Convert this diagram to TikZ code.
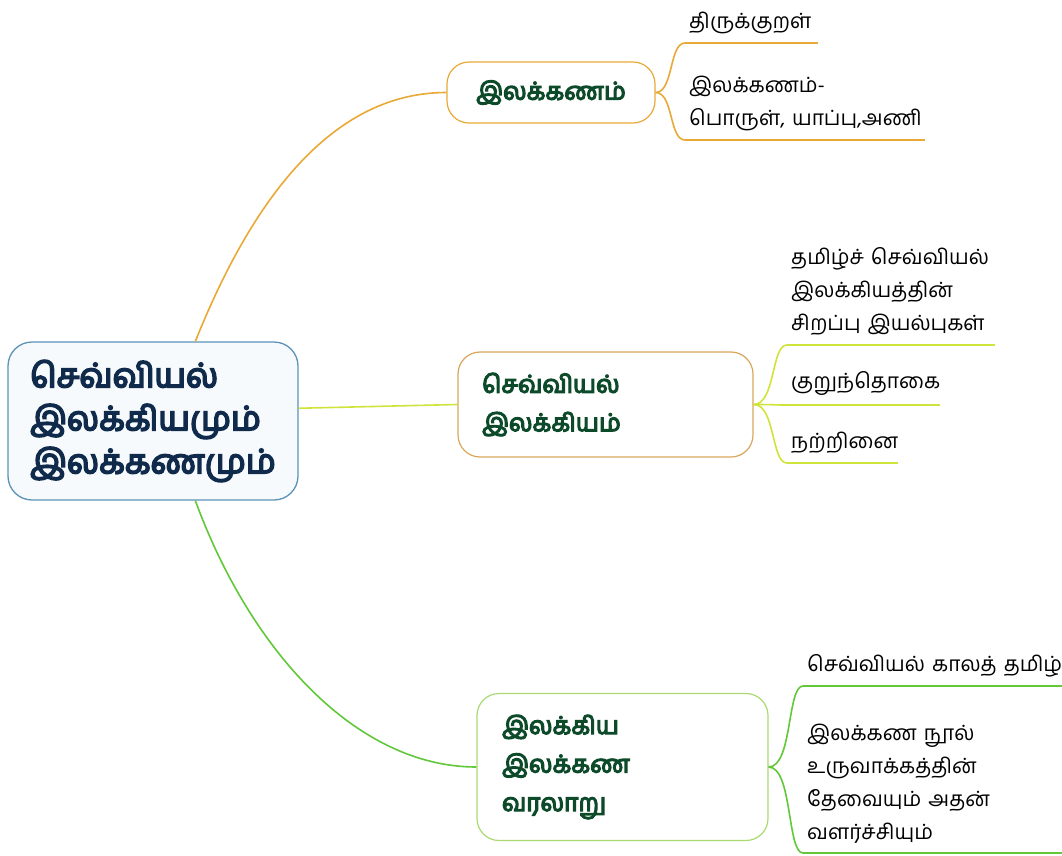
\documentclass[tikz,border=0pt]{standalone}
\usepackage{fontspec}
\newfontfamily\tamil[Script=Tamil]{Hind Madurai}
\newfontfamily\tamilbold[Script=Tamil, FakeBold=5]{Hind Madurai}
\usetikzlibrary{positioning}

\definecolor{rootline}{HTML}{5B93B8}
\definecolor{rootfill}{HTML}{F6FAFC}
\definecolor{rootink}{HTML}{102A4C}
\definecolor{branchink}{HTML}{0D4A2A}
\definecolor{gold}{HTML}{E9A936}
\definecolor{goldbox}{HTML}{DAA65C}
\definecolor{lime}{HTML}{CFE33A}
\definecolor{leaf}{HTML}{62C83A}
\definecolor{leafbox}{HTML}{A9DA72}

\tikzstyle{rootbox} = [rectangle, rounded corners=24pt, draw=rootline, line width=1.3pt, fill=rootfill, text width=246pt, inner xsep=22pt, minimum height=158pt, align=left, text=rootink, font=\tamilbold\fontsize{33.5}{43}\selectfont]
\tikzstyle{branch} = [rectangle, rounded corners=22pt, line width=1.2pt, fill=white, align=left, text=branchink, font=\tamilbold\fontsize{24.5}{38.5}\selectfont]
\tikzstyle{topic} = [anchor=south west, inner xsep=4pt, inner ysep=9pt, align=left, font=\tamil\fontsize{21}{33}\selectfont]
\tikzstyle{link} = [line width=1.6pt]
\tikzstyle{under} = [line width=2.6pt]

\begin{document}
\begin{tikzpicture}[x=1pt, y=-1pt]

        \useasboundingbox (0,0) rectangle (1062,856);

        \node (root) [rootbox] at (153,421) {செவ்வியல்\\இலக்கியமும்\\இலக்கணமும்};
        \node (grammar) [branch, draw=gold, minimum width=208pt, minimum height=61pt, align=center] at (551,92.5) {இலக்கணம்};
        \node (classicLit) [branch, draw=goldbox, text width=247pt, inner xsep=24pt, minimum height=105pt] at (605.5,404.5) {செவ்வியல்\\இலக்கியம்};
        \node (litHistory) [branch, draw=leafbox, text width=241pt, inner xsep=25pt, minimum height=147pt] at (622.5,767) {இலக்கிய\\இலக்கண\\வரலாறு};

        \node (kural) [topic, text width=125pt] at (685,43) {திருக்குறள்};
        \node (grammarParts) [topic, text width=232pt] at (685,140) {இலக்கணம்-\\பொருள்,~யாப்பு,அணி};
        \node (traits) [topic, text width=200pt] at (787,345) {தமிழ்ச் செவ்வியல்\\இலக்கியத்தின்\\சிறப்பு இயல்புகள்};
        \node (kurunthogai) [topic, text width=145pt] at (787,405) {குறுந்தொகை};
        \node (natrinai) [topic, text width=103pt] at (787,463) {நற்றினை};
        \node (classicTamil) [topic, text width=251pt] at (803,686) {செவ்வியல்~காலத்~தமிழ்};
        \node (grammarNeed) [topic, text width=251pt] at (803,853) {இலக்கண நூல்\\உருவாக்கத்தின்\\தேவையும் அதன்\\வளர்ச்சியும்};

        % main branches
        \draw [link, gold] (root.62) .. controls +(60,-150) and +(-110,0) .. (grammar.west);
        \draw [link, lime] (root.5) -- (classicLit.west);
        \draw [link, leaf] (root.-62) .. controls +(55,150) and +(-120,0) .. (litHistory.west);

        % topics
        \draw [link, gold] (grammar.east) .. controls +(18,0) and +(-16,0) .. (kural.south west);
        \draw [link, gold] (grammar.east) .. controls +(18,0) and +(-16,0) .. (grammarParts.south west);
        \draw [link, lime] (classicLit.east) .. controls +(22,0) and +(-16,0) .. (traits.south west);
        \draw [link, lime] (classicLit.east) .. controls +(22,0) and +(-16,0) .. (kurunthogai.south west);
        \draw [link, lime] (classicLit.east) .. controls +(22,0) and +(-16,0) .. (natrinai.south west);
        \draw [link, leaf] (litHistory.east) .. controls +(24,0) and +(-16,0) .. (classicTamil.south west);
        \draw [link, leaf] (litHistory.east) .. controls +(24,0) and +(-16,0) .. (grammarNeed.south west);

        \draw [under, gold] (kural.south west) -- (kural.south east);
        \draw [under, gold] (grammarParts.south west) -- (grammarParts.south east);
        \draw [under, lime] (traits.south west) -- (traits.south east);
        \draw [under, lime] (kurunthogai.south west) -- (kurunthogai.south east);
        \draw [under, lime] (natrinai.south west) -- (natrinai.south east);
        \draw [under, leaf] (classicTamil.south west) -- (classicTamil.south east);
        \draw [under, leaf] (grammarNeed.south west) -- (grammarNeed.south east);

    \end{tikzpicture}
\end{document}
